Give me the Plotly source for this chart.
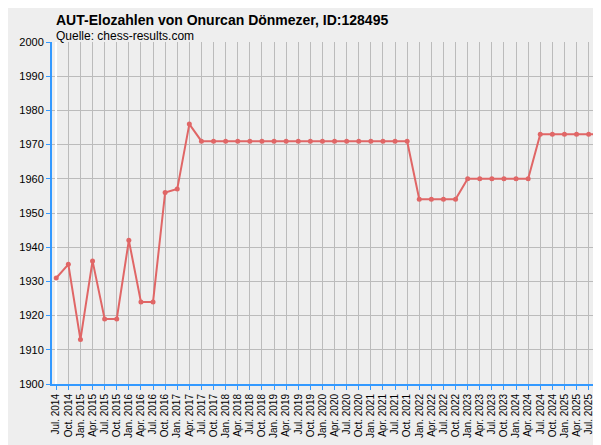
import plotly.graph_objects as go

labels = []
for y in range(2014, 2026):
    for m in ["Jan.", "Apr.", "Jul.", "Oct."]:
        if y == 2014 and m in ("Jan.", "Apr."):
            continue
        labels.append(f"{m} {y}")

values = [1931, 1935, 1913, 1936, 1919, 1919, 1942, 1924, 1924, 1956, 1957, 1976,
          1971, 1971, 1971, 1971, 1971, 1971, 1971, 1971, 1971, 1971, 1971, 1971,
          1971, 1971, 1971, 1971, 1971, 1971,
          1954, 1954, 1954, 1954,
          1960, 1960, 1960, 1960, 1960, 1960,
          1973, 1973, 1973, 1973, 1973, 1973]

fig = go.Figure(go.Scatter(x=list(range(len(labels))), y=values, mode="lines+markers",
                           line=dict(color="#e06666", width=2),
                           marker=dict(color="#e06666", size=5)))
fig.update_layout(
    width=601, height=445, margin=dict(l=44, r=4, t=34, b=69, autoexpand=False),
    paper_bgcolor="#eeeeee", plot_bgcolor="#eeeeee", showlegend=False,
    font=dict(family="Liberation Sans, Arial", size=11, color="#000"),
    annotations=[
        dict(text="<b>AUT-Elozahlen von Onurcan Dönmezer, ID:128495</b>", x=46, y=445 - 3, xref="paper", yref="paper",
             xanchor="left", yanchor="top", showarrow=False, font=dict(size=14)),
    ],
)
# place titles in pixel terms via container-relative positions
fig.layout.annotations = []
fig.add_annotation(text="<b>AUT-Elozahlen von Onurcan Dönmezer, ID:128495</b>",
                   x=(46 - 44) / 553, y=1 + 32 / 342, xref="paper", yref="paper",
                   xanchor="left", yanchor="top", showarrow=False, font=dict(size=14))
fig.add_annotation(text="Quelle: chess-results.com",
                   x=(46 - 44) / 553, y=1 + 15 / 342, xref="paper", yref="paper",
                   xanchor="left", yanchor="top", showarrow=False, font=dict(size=12))
fig.update_xaxes(tickangle=-90, showgrid=True, gridcolor="#bbbbbb", range=[-0.35, len(labels) - 0.65],
                 tickmode="array", tickvals=list(range(len(labels))), ticktext=labels,
                 showline=True, linecolor="#3399ff", linewidth=2, ticks="outside", tickcolor="#3399ff",
                 ticklen=4, tickfont=dict(size=10), automargin=False)
fig.update_yaxes(range=[1900, 2000], dtick=10, showgrid=True, gridcolor="#bbbbbb",
                 showline=True, linecolor="#3399ff", linewidth=2, ticks="outside", tickcolor="#3399ff",
                 ticklen=4, zeroline=False, automargin=False)
fig.write_html("out.html")
